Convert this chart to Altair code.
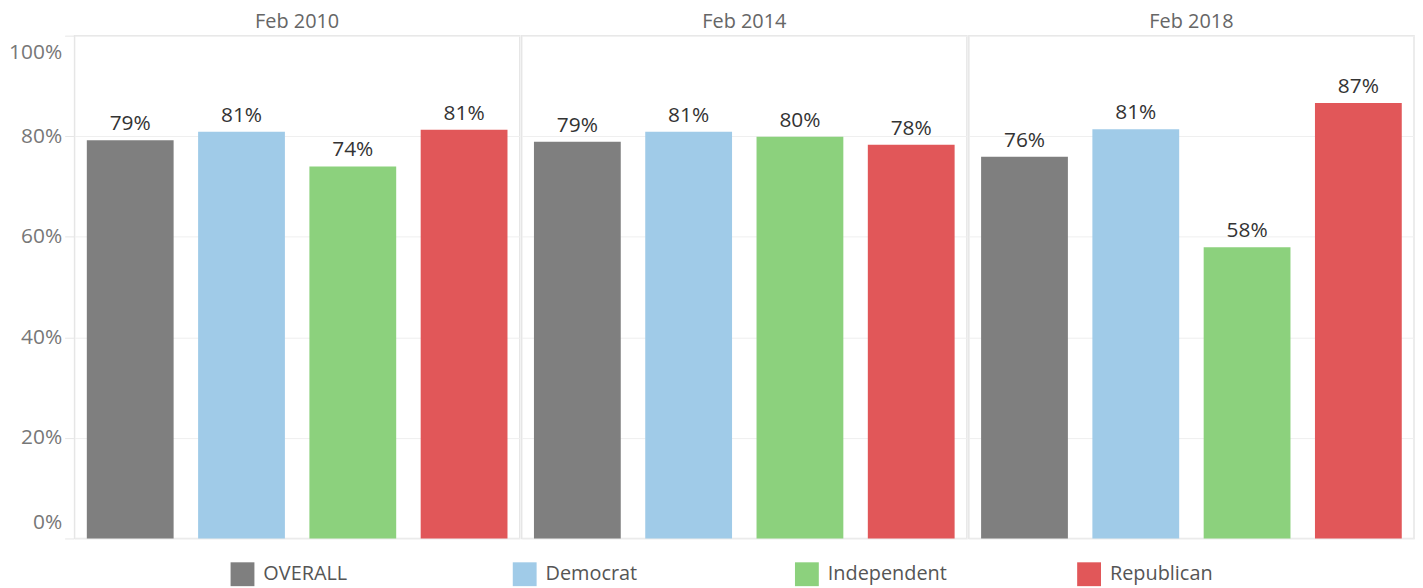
import altair as alt
import pandas as pd

periods = ["Feb 2010", "Feb 2014", "Feb 2018"]
parties = ["OVERALL", "Democrat", "Independent", "Republican"]
colors = ["#7f7f7f", "#a0cbe8", "#8cd17d", "#e15759"]

overall = [0.792, 0.789, 0.759]
democrat = [0.809, 0.809, 0.814]
independent = [0.740, 0.799, 0.579]
republican = [0.813, 0.783, 0.866]

rows = []
for i, p in enumerate(periods):
    for party, vals in zip(parties, [overall, democrat, independent, republican]):
        rows.append({"period": p, "party": party, "value": vals[i]})
df = pd.DataFrame(rows)

FONT = "Open Sans"

x_enc = alt.X("party:N", sort=parties, axis=None,
              scale=alt.Scale(paddingInner=0.22, paddingOuter=0.11))
y_enc = alt.Y("value:Q", title=None,
              scale=alt.Scale(domain=[0, 1], nice=False),
              axis=alt.Axis(values=[0, 0.2, 0.4, 0.6, 0.8, 1.0], format=".0%",
                            labelFontSize=21, labelColor="#777777", labelFont=FONT,
                            tickColor="#e6e6e6", tickSize=9, domain=False,
                            gridColor="#efefef", labelPadding=3,
                            labelFlush=True, labelFlushOffset=-6))

bars = alt.Chart().mark_bar().encode(
    x=x_enc,
    y=y_enc,
    color=alt.Color("party:N", sort=parties,
                    scale=alt.Scale(domain=parties, range=colors),
                    legend=alt.Legend(title=None, orient="none", direction="horizontal",
                                      columns=4, gridAlign="all",
                                      symbolType="square", symbolSize=576,
                                      symbolStrokeWidth=0, symbolOpacity=1,
                                      labelFontSize=20, labelColor="#555555", labelFont=FONT,
                                      labelOffset=9, columnPadding=131,
                                      legendX=157, legendY=530)),
)

labels = alt.Chart().mark_text(fontSize=21, color="#333333", font=FONT,
                               baseline="alphabetic", dy=-10).encode(
    x=x_enc,
    y=alt.Y("value:Q"),
    text=alt.Text("value:Q", format=".0%"),
)

chart = alt.layer(bars, labels, data=df).properties(
    width=448, height=506
).facet(
    column=alt.Column("period:N", sort=periods,
                      header=alt.Header(title=None, labelOrient="top",
                                        labelFontSize=20, labelColor="#666666",
                                        labelFont=FONT, labelPadding=3))
).properties(
    padding={"left": 0, "top": 2, "right": 0, "bottom": 0}
).configure_facet(spacing=0).configure_view(
    stroke="#e6e6e6", strokeWidth=1.5
)

chart.save("out.html", embed_options={"renderer": "svg", "actions": False})
